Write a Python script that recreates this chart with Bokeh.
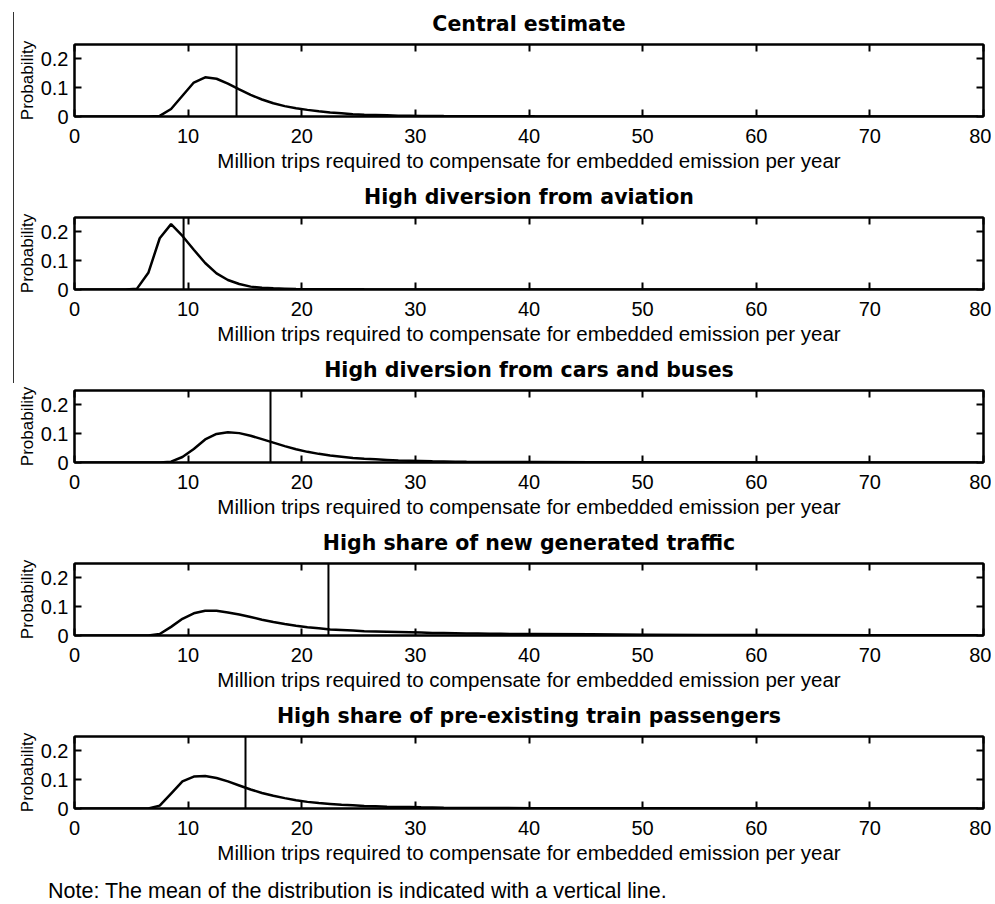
from bokeh.plotting import figure
from bokeh.models import Span, LinearAxis, Div, FixedTicker
from bokeh.layouts import column, row
from bokeh.embed import file_html
from bokeh.resources import INLINE

FONT = "Liberation Sans"
TITLE_FONT = "DejaVu Sans"

titles = [
    "Central estimate",
    "High diversion from aviation",
    "High diversion from cars and buses",
    "High share of new generated traffic",
    "High share of pre-existing train passengers",
]

x_label = "Million trips required to compensate for embedded emission per year"
y_label = "Probability"
note_text = "Note: The mean of the distribution is indicated with a vertical line."

x_ticks = [0, 10, 20, 30, 40, 50, 60, 70, 80]
y_ticks = [0, 0.1, 0.2]
y_tick_labels = ["0", "0.1", "0.2"]

# Central estimate
central_x = [0.5, 6.5, 7.5, 8.5, 9.5, 10.5, 11.5, 12.5, 13.5, 14.5, 15.5, 16.5, 17.5,
             18.5, 19.5, 20.5, 21.5, 22.5, 23.5, 24.5, 25.5, 26.5, 27.5, 28.5, 29.5,
             30.5, 32.5, 35.5, 40.5, 79.5]
central_y = [0, 0, 0.002, 0.026, 0.072, 0.118, 0.136, 0.131, 0.114, 0.094, 0.075, 0.059,
             0.046, 0.036, 0.029, 0.023, 0.018, 0.014, 0.011, 0.008, 0.006, 0.005, 0.004,
             0.003, 0.003, 0.002, 0.0015, 0.001, 0.0005, 0]
central_mean = 14.26

# High diversion from aviation
aviation_x = [0.5, 4.5, 5.5, 6.5, 7.5, 8.5, 9.5, 10.5, 11.5, 12.5, 13.5, 14.5, 15.5,
              16.5, 17.5, 18.5, 19.5, 21.5, 25.5, 79.5]
aviation_y = [0, 0, 0.003, 0.058, 0.178, 0.227, 0.186, 0.138, 0.092, 0.056, 0.033, 0.019,
              0.010, 0.006, 0.004, 0.003, 0.002, 0.001, 0.0005, 0]
aviation_mean = 9.6

# High diversion from cars and buses
cars_x = [0.5, 7.5, 8.5, 9.5, 10.5, 11.5, 12.5, 13.5, 14.5, 15.5, 16.5, 17.5, 18.5,
          19.5, 20.5, 21.5, 22.5, 23.5, 24.5, 25.5, 26.5, 27.5, 28.5, 29.5, 30.5,
          31.5, 32.5, 33.5, 34.5, 36.5, 40.5, 45.5, 55.5, 79.5]
cars_y = [0, 0, 0.003, 0.019, 0.047, 0.080, 0.099, 0.105, 0.102, 0.093, 0.081, 0.069,
          0.057, 0.046, 0.037, 0.030, 0.024, 0.020, 0.016, 0.013, 0.011, 0.009, 0.007,
          0.006, 0.005, 0.004, 0.0035, 0.003, 0.0025, 0.002, 0.0015, 0.001, 0.0005, 0]
cars_mean = 17.25

# High share of new generated traffic
newtraffic_x = [0.5, 6.5, 7.5, 8.5, 9.5, 10.5, 11.5, 12.5, 13.5, 14.5, 15.5, 16.5, 17.5,
                18.5, 19.5, 20.5, 21.5, 22.5, 23.5, 24.5, 25.5, 26.5, 27.5, 28.5, 29.5,
                30.5, 31.5, 32.5, 33.5, 34.5, 35.5, 36.5, 37.5, 38.5, 39.5, 40.5, 45.5,
                50.5, 55.5, 60.5, 70.5, 79.5]
newtraffic_y = [0, 0, 0.005, 0.030, 0.058, 0.077, 0.086, 0.086, 0.080, 0.073, 0.064, 0.055,
                0.047, 0.040, 0.034, 0.029, 0.025, 0.021, 0.019, 0.017, 0.015, 0.014, 0.013,
                0.012, 0.011, 0.010, 0.009, 0.009, 0.008, 0.007, 0.007, 0.006, 0.006, 0.005,
                0.005, 0.005, 0.004, 0.003, 0.002, 0.002, 0.001, 0.001]
newtraffic_mean = 22.35

# High share of pre-existing train passengers
preexist_x = [0.5, 6.5, 7.5, 8.5, 9.5, 10.5, 11.5, 12.5, 13.5, 14.5, 15.5, 16.5, 17.5,
              18.5, 19.5, 20.5, 21.5, 22.5, 23.5, 24.5, 25.5, 26.5, 27.5, 28.5, 29.5,
              30.5, 32.5, 35.5, 40.5, 50.5, 79.5]
preexist_y = [0, 0, 0.010, 0.052, 0.094, 0.111, 0.113, 0.106, 0.094, 0.080, 0.066, 0.054,
              0.044, 0.036, 0.029, 0.023, 0.019, 0.016, 0.013, 0.011, 0.009, 0.008, 0.006,
              0.005, 0.005, 0.004, 0.003, 0.002, 0.001, 0.0005, 0]
preexist_mean = 15.05

series_x = [central_x, aviation_x, cars_x, newtraffic_x, preexist_x]
series_y = [central_y, aviation_y, cars_y, newtraffic_y, preexist_y]
means = [central_mean, aviation_mean, cars_mean, newtraffic_mean, preexist_mean]


def style_axis(ax, show_labels):
    ax.axis_line_color = "black"
    ax.axis_line_width = 2
    ax.major_tick_line_color = "black"
    ax.major_tick_line_width = 2
    ax.major_tick_in = 7
    ax.major_tick_out = 0
    ax.minor_tick_line_color = None
    ax.major_label_text_font = FONT
    ax.major_label_text_color = "black"
    ax.axis_label_text_color = "black"
    if not show_labels:
        ax.major_label_text_font_size = "0px"
        ax.major_label_standoff = 0


figs = []
for i in range(5):
    p = figure(frame_width=909, frame_height=72, x_range=(0, 80), y_range=(0, 0.25),
               output_backend="svg", toolbar_location=None,
               min_border_left=59, min_border_right=8, min_border_top=36,
               min_border_bottom=65, background_fill_color="white",
               border_fill_color="white")
    p.outline_line_color = "black"
    p.outline_line_width = 2
    p.xgrid.visible = False
    p.ygrid.visible = False

    xa = p.xaxis[0]
    xa.ticker = FixedTicker(ticks=x_ticks)
    style_axis(xa, True)
    xa.major_label_text_font_size = "20px"
    xa.major_label_standoff = 12
    xa.axis_label = x_label
    xa.axis_label_text_font = FONT
    xa.axis_label_text_font_size = "20.5px"
    xa.axis_label_text_font_style = "normal"
    xa.axis_label_standoff = 3

    ya = p.yaxis[0]
    ya.ticker = FixedTicker(ticks=y_ticks)
    ya.major_label_overrides = {t: l for t, l in zip(y_ticks, y_tick_labels)}
    style_axis(ya, True)
    ya.major_label_text_font_size = "20px"
    ya.major_label_standoff = 6
    ya.axis_label = y_label
    ya.axis_label_text_font = FONT
    ya.axis_label_text_font_size = "17px"
    ya.axis_label_text_font_style = "normal"
    ya.axis_label_standoff = 1

    # top axis (mirrored ticks) carries the panel title
    top = LinearAxis(ticker=FixedTicker(ticks=x_ticks))
    style_axis(top, False)
    top.axis_label = titles[i]
    top.axis_label_text_font = TITLE_FONT
    top.axis_label_text_font_size = "20.5px"
    top.axis_label_text_font_style = "bold"
    top.axis_label_standoff = 9
    p.add_layout(top, "above")
    right = LinearAxis(ticker=FixedTicker(ticks=y_ticks))
    style_axis(right, False)
    p.add_layout(right, "right")

    p.line(series_x[i], series_y[i], line_color="black", line_width=2.5)
    p.add_layout(Span(location=means[i], dimension="height", line_color="black",
                      line_width=2))
    figs.append(p)

note = Div(text=note_text, width=900, height=28, margin=(4, 0, 0, 34),
           styles={"font-family": FONT, "font-size": "21.5px", "color": "black",
                   "line-height": "28px", "white-space": "nowrap"})

edge = Div(text="", width=1, height=371, margin=(12, 0, 0, 13),
           styles={"background-color": "#333333"})

charts = column(*figs, note, spacing=0, margin=(8, 0, 0, 0))
layout = row(edge, charts, spacing=0)
open("out.html", "w").write(file_html(layout, INLINE))
